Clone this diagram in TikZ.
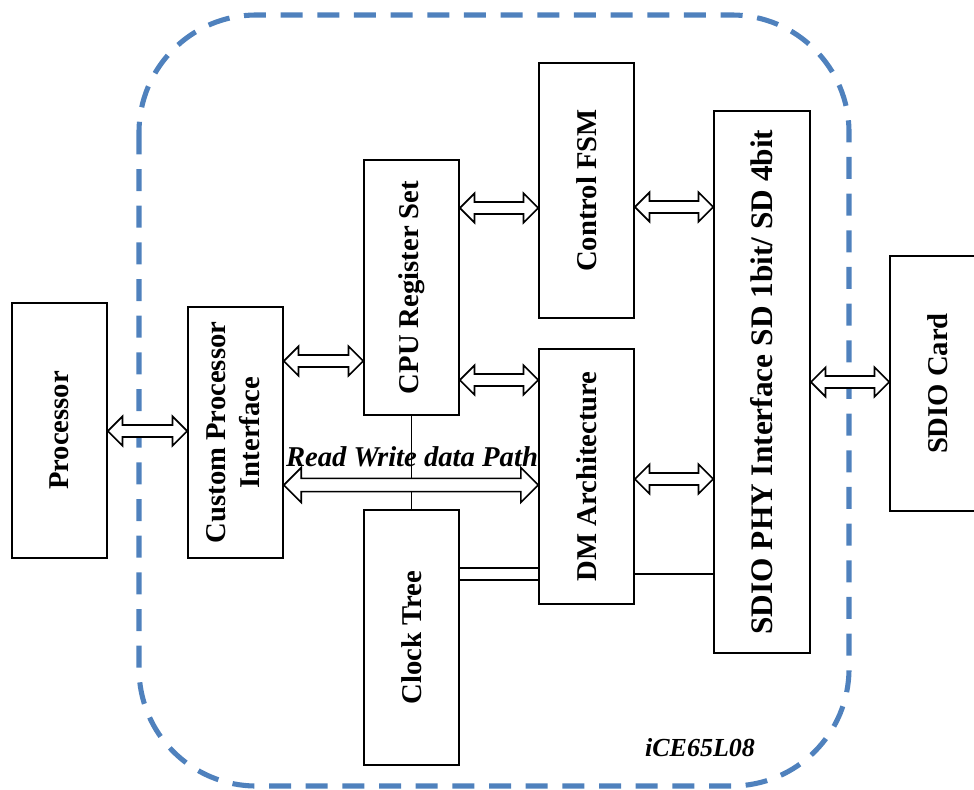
\documentclass[tikz,border=0pt]{standalone}
\usepackage{fontspec}
\setmainfont{Liberation Serif}
\usetikzlibrary{calc}
\definecolor{bord}{HTML}{4F81BD}
\tikzset{
  box/.style={draw, line width=1.3pt, fill=white, inner sep=0pt, font=\fontsize{21.5}{26}\selectfont\bfseries},
  arr/.style={draw, line width=1.2pt, fill=white, line join=miter},
  conn/.style={line width=1.4pt},
  border/.style={draw=bord, line width=3.8pt, dash pattern=on 16.5pt off 11pt, rounded corners=88pt},
  lbl/.style={font=\fontsize{21.5}{25}\selectfont\bfseries\itshape, inner sep=0pt}
}
% double block arrow between two named coordinates (same height)
% #3 head length, #4 head half height, #5 shaft half height
\newcommand{\darr}[5]{%
  \path[arr] let \p1=(#1), \p2=(#2) in
    (\x1,\y1) -- (\x1+#3,\y1+#4) -- (\x1+#3,\y1+#5) -- (\x2-#3,\y1+#5) -- (\x2-#3,\y1+#4)
    -- (\x2,\y1) -- (\x2-#3,\y1-#4) -- (\x2-#3,\y1-#5) -- (\x1+#3,\y1-#5) -- (\x1+#3,\y1-#4) -- cycle;}
\begin{document}
\begin{tikzpicture}[x=0.75pt,y=-0.75pt]
\useasboundingbox (0,0) rectangle (974,789);
\clip (0,0) rectangle (974,789);

% outer dashed border
\draw[border] (139,15) rectangle (849,786);

% boxes
\node[box, minimum width=71.25pt, minimum height=191.25pt] (proc) at (59.5,430.5) {\rotatebox{90}{Processor}};
\node[box, minimum width=71.25pt, minimum height=188.25pt] (cpi) at (235.5,432.5) {\rotatebox{90}{\begin{tabular}{@{}c@{}}Custom Processor\\[-1pt]Interface\end{tabular}}};
\node[box, minimum width=71.25pt, minimum height=191.25pt] (cpu) at (411.5,287.5) {\rotatebox{90}{CPU Register Set}};
\node[box, minimum width=71.25pt, minimum height=191.25pt] (fsm) at (586.5,190.5) {\rotatebox{90}{Control FSM}};
\node[box, minimum width=71.25pt, minimum height=191.25pt] (dm) at (586.5,476.5) {\rotatebox{90}{DM Architecture}};
\node[box, minimum width=71.25pt, minimum height=191.25pt] (clk) at (411.5,637.5) {\rotatebox{90}{Clock Tree}};
\node[box, minimum width=72pt, minimum height=406.5pt, font=\fontsize{23.5}{28}\selectfont\bfseries] (phy) at (762,382) {\rotatebox{90}{SDIO PHY Interface SD 1bit/ SD 4bit}};
\node[box, minimum width=71.25pt, minimum height=191.25pt] (card) at (937.5,383.5) {\rotatebox{90}{SDIO Card}};

% plain connectors
\draw[conn] (cpu.south) -- (clk.north);
\draw[conn] (clk.east |- 0,568) coordinate (c1) -- (dm.west |- 0,568) coordinate (c2);
\draw[conn] (clk.east |- 0,580) coordinate (c3) -- (dm.west |- 0,580) coordinate (c4);
\draw[conn] (dm.east |- 0,574) coordinate (c5) -- (phy.west |- 0,574) coordinate (c6);

% block arrow anchors
\coordinate (a1) at (proc.east |- 0,431);
\coordinate (b1) at (cpi.west |- 0,431);
\coordinate (a2) at (cpi.east |- 0,361);
\coordinate (b2) at (cpu.west |- 0,361);
\coordinate (a3) at (cpu.east |- 0,208);
\coordinate (b3) at (fsm.west |- 0,208);
\coordinate (a4) at (cpu.east |- 0,380);
\coordinate (b4) at (dm.west |- 0,380);
\coordinate (a5) at (cpi.east |- 0,485);
\coordinate (b5) at (dm.west |- 0,485);
\coordinate (a6) at (fsm.east |- 0,207);
\coordinate (b6) at (phy.west |- 0,207);
\coordinate (a7) at (dm.east |- 0,479);
\coordinate (b7) at (phy.west |- 0,479);
\coordinate (a8) at (phy.east |- 0,382);
\coordinate (b8) at (card.west |- 0,382);

\darr{a1}{b1}{11pt}{11pt}{4.5pt}
\darr{a2}{b2}{11pt}{11pt}{4.5pt}
\darr{a3}{b3}{11pt}{11pt}{4.5pt}
\darr{a4}{b4}{11pt}{11pt}{4.5pt}
\darr{a5}{b5}{13pt}{13pt}{5pt}
\darr{a6}{b6}{11pt}{11pt}{4.5pt}
\darr{a7}{b7}{11pt}{11pt}{4.5pt}
\darr{a8}{b8}{11pt}{11pt}{4.5pt}

% labels
\node[lbl] (rw) at (412,457) {Read Write data Path};
\node[lbl, font=\fontsize{19.5}{23}\selectfont\bfseries\itshape] (chip) at (700,748) {iCE65L08};
\end{tikzpicture}
\end{document}
